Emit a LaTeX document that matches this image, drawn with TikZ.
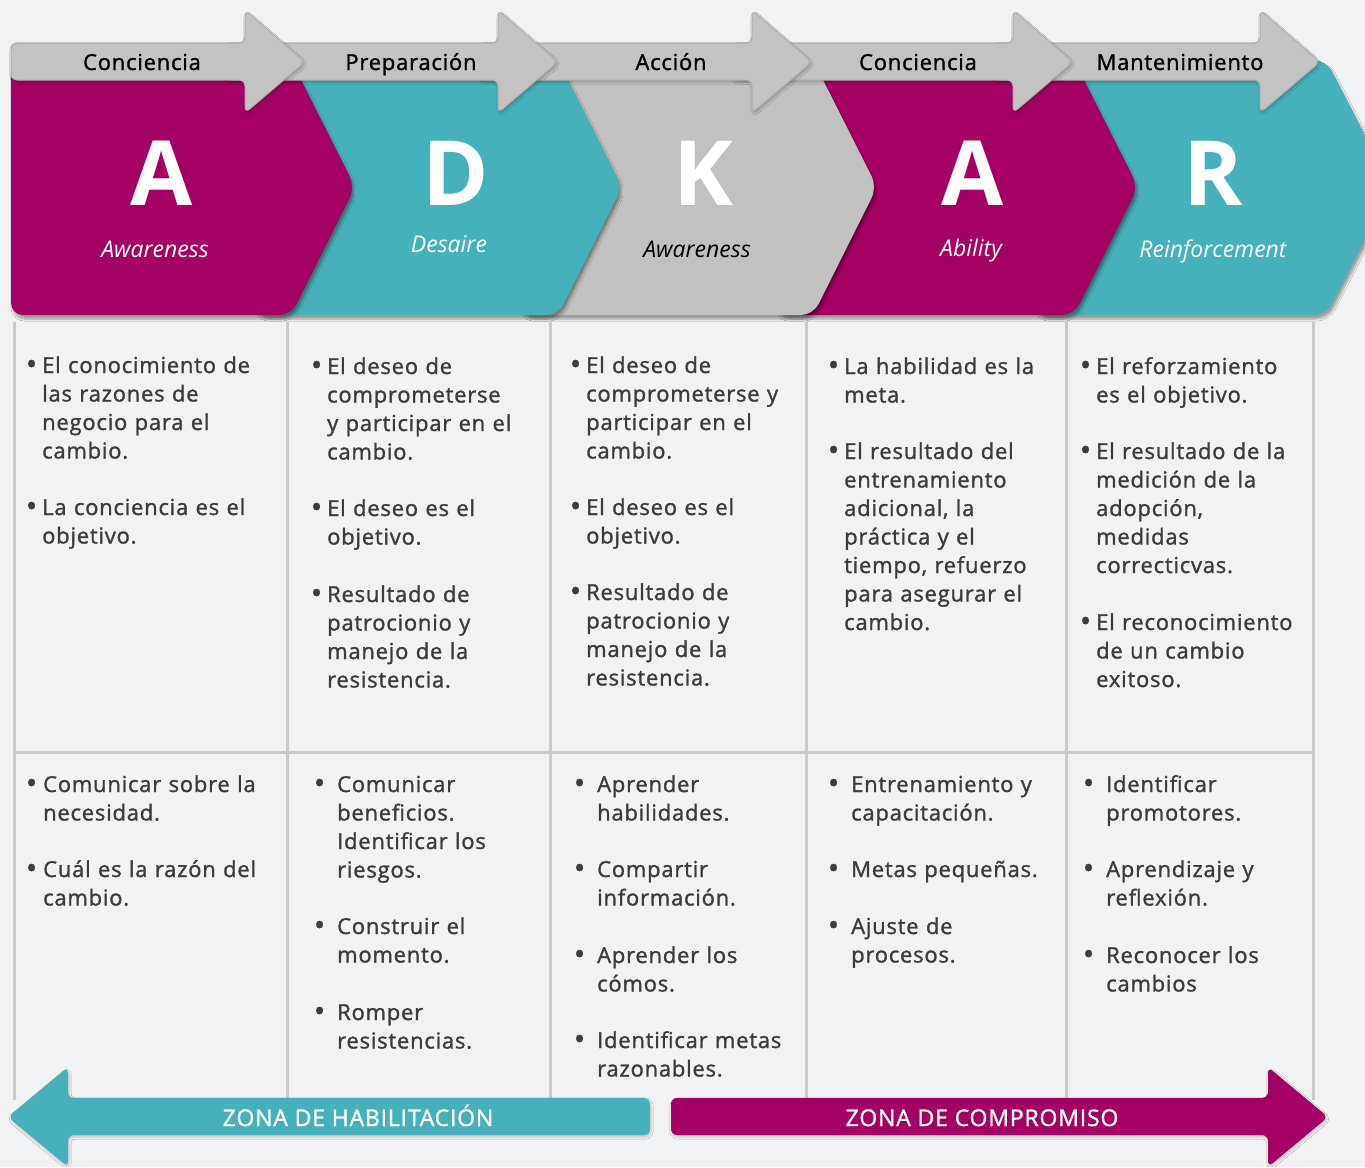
\documentclass[tikz,border=0pt]{standalone}
\usepackage{fontspec}
\setmainfont{Open Sans}
\newfontfamily\sbfont{Open Sans}[FakeBold=1.3,LetterSpace=3.5]
\usetikzlibrary{shadows.blur}
\definecolor{bgc}{HTML}{F1F2F4}
\definecolor{magc}{HTML}{A50064}
\definecolor{tealc}{HTML}{47B1BB}
\definecolor{chgray}{HTML}{C1C1C1}
\definecolor{bandgray}{HTML}{C3C3C3}
\definecolor{bandline}{HTML}{ADADAD}
\definecolor{gridc}{HTML}{CACACA}
\definecolor{txtc}{HTML}{3C3C3C}
\newcommand\bu[1][5pt]{\leavevmode\llap{\raisebox{-1.5pt}{\fontsize{30}{30}\selectfont\textbullet}\hspace{#1}}}
\begin{document}
\begin{tikzpicture}[x=1pt,y=-1pt,
  chev/.style={rounded corners=12pt, blur shadow={shadow xshift=2pt,shadow yshift=-4pt,shadow blur steps=6,shadow opacity=35}},
  tarrow/.style={fill=bandgray, draw=bandline, line width=1pt, rounded corners=6pt, blur shadow={shadow xshift=1pt,shadow yshift=-2pt,shadow blur steps=4,shadow opacity=25}},
  barrow/.style={rounded corners=6pt, blur shadow={shadow xshift=1pt,shadow yshift=-2pt,shadow blur steps=4,shadow opacity=20}},
  bigletter/.style={anchor=base, text=white, font=\fontsize{90}{90}\selectfont\bfseries, inner sep=0},
  subt/.style={anchor=base, text=white, font=\fontsize{23}{26}\selectfont\itshape, inner sep=0},
  toplabel/.style={anchor=base, text=black, font=\sbfont\fontsize{22}{26}\selectfont, inner sep=0},
  item/.style={anchor=base west, align=left, text width=250pt, inner sep=0, text=txtc, font=\sbfont\fontsize{22}{28.5}\selectfont},
  zone/.style={anchor=base, text=white, font=\sbfont\fontsize{23}{24}\selectfont, inner sep=0},
  gridline/.style={draw=gridc, line width=3pt}
]
\useasboundingbox (0,0) rectangle (1365,1167);
\fill[bgc] (0,0) rectangle (1365,1167);

% table grid
\foreach \xx in {14,287,550,806,1066,1313} \draw[gridline] (\xx,322) -- (\xx,1100);
\draw[gridline] (14,752) -- (1313,752);

% chevrons (right to left so left ones lie on top)
\fill[tealc,chev] (1035,60) -- (1326,60) -- (1392,187) -- (1326,315) -- (1035,315) -- cycle;
\fill[magc,chev] (775,60) -- (1074,60) -- (1138,187) -- (1074,315) -- (775,315) -- cycle;
\fill[chgray,chev] (520,60) -- (813,60) -- (877,187) -- (813,315) -- (520,315) -- cycle;
\fill[tealc,chev] (255,60) -- (558,60) -- (622,187) -- (558,315) -- (255,315) -- cycle;
\fill[magc,chev] (11,60) -- (291,60) -- (355,187) -- (291,315) -- (11,315) -- cycle;

\node[bigletter] (L1) at (162,205) {A};
\node[bigletter] (L2) at (456,205) {D};
\node[bigletter] (L3) at (703,205) {K};
\node[bigletter] (L4) at (973,205) {A};
\node[bigletter] (L5) at (1213,205) {R};
\node[subt] (S1) at (155,257) {Awareness};
\node[subt] (S2) at (449,252) {Desaire};
\node[subt,text=black] (S3) at (697,257) {Awareness};
\node[subt] (S4) at (971,256) {Ability};
\node[subt] (S5) at (1213,257) {Reinforcement};

% top arrows
\path[tarrow] (993,43) -- (1260,43) -- (1260,10) -- (1320,62) -- (1260,113) -- (1260,80) -- (993,80) -- cycle;
\path[tarrow] (732,43) -- (1013,43) -- (1013,10) -- (1073,62) -- (1013,113) -- (1013,80) -- (732,80) -- cycle;
\path[tarrow] (478,43) -- (752,43) -- (752,10) -- (812,62) -- (752,113) -- (752,80) -- (478,80) -- cycle;
\path[tarrow] (225,43) -- (498,43) -- (498,10) -- (558,62) -- (498,113) -- (498,80) -- (225,80) -- cycle;
\path[tarrow] (11,43) -- (245,43) -- (245,10) -- (305,62) -- (245,113) -- (245,80) -- (11,80) -- cycle;

\node[toplabel] (T1) at (142,70) {Conciencia};
\node[toplabel] (T2) at (411,70) {Preparación};
\node[toplabel] (T3) at (671,70) {Acción};
\node[toplabel] (T4) at (918,70) {Conciencia};
\node[toplabel] (T5) at (1180,70) {Mantenimiento};

% row 1
\node[item] (a1) at (42,373) {\bu El conocimiento de\\las razones de\\negocio para el\\cambio.};
\node[item] (a2) at (42,515) {\bu La conciencia es el\\objetivo.};
\node[item] (b1) at (327,374) {\bu El deseo de\\comprometerse\\y participar en el\\cambio.};
\node[item] (b2) at (327,516) {\bu El deseo es el\\objetivo.};
\node[item] (b3) at (327,602) {\bu Resultado de\\patrocionio y\\manejo de la\\resistencia.};
\node[item] (c1) at (586,373) {\bu El deseo de\\comprometerse y\\participar en el\\cambio.};
\node[item] (c2) at (586,515) {\bu El deseo es el\\objetivo.};
\node[item] (c3) at (586,600) {\bu Resultado de\\patrocionio y\\manejo de la\\resistencia.};
\node[item] (d1) at (844,374) {\bu La habilidad es la\\meta.};
\node[item] (d2) at (844,459) {\bu El resultado del\\entrenamiento\\adicional, la\\práctica y el\\tiempo, refuerzo\\para asegurar el\\cambio.};
\node[item] (e1) at (1096,374) {\bu El reforzamiento\\es el objetivo.};
\node[item] (e2) at (1096,459) {\bu El resultado de la\\medición de la\\adopción,\\medidas\\correcticvas.};
\node[item] (e3) at (1096,630) {\bu El reconocimiento\\de un cambio\\exitoso.};

% row 2
\node[item] (f1) at (43,792) {\bu[6pt]Comunicar sobre la\\necesidad.};
\node[item] (f2) at (43,877) {\bu[6pt]Cuál es la razón del\\cambio.};
\node[item] (g1) at (337,792) {\bu[12pt]Comunicar\\beneficios.\\Identificar los\\riesgos.};
\node[item] (g2) at (337,934) {\bu[12pt]Construir el\\momento.};
\node[item] (g3) at (337,1020) {\bu[12pt]Romper\\resistencias.};
\node[item] (h1) at (597,792) {\bu[12pt]Aprender\\habilidades.};
\node[item] (h2) at (597,877) {\bu[12pt]Compartir\\información.};
\node[item] (h3) at (597,963) {\bu[12pt]Aprender los\\cómos.};
\node[item] (h4) at (597,1048) {\bu[12pt]Identificar metas\\razonables.};
\node[item] (i1) at (851,792) {\bu[12pt]Entrenamiento y\\capacitación.};
\node[item] (i2) at (851,877) {\bu[12pt]Metas pequeñas.};
\node[item] (i3) at (851,934) {\bu[12pt]Ajuste de\\procesos.};
\node[item] (j1) at (1106,792) {\bu[12pt]Identificar\\promotores.};
\node[item] (j2) at (1106,877) {\bu[12pt]Aprendizaje y\\reflexión.};
\node[item] (j3) at (1106,963) {\bu[12pt]Reconocer los\\cambios};

% bottom arrows
\fill[tealc,barrow] (650,1098) -- (68,1098) -- (68,1067) -- (8,1117) -- (68,1167) -- (68,1135) -- (650,1135) -- cycle;
\fill[magc,barrow] (671,1098) -- (1268,1098) -- (1268,1067) -- (1328,1117) -- (1268,1167) -- (1268,1135) -- (671,1135) -- cycle;
\node[zone] (Z1) at (358,1126) {ZONA DE HABILITACIÓN};
\node[zone] (Z2) at (982,1126) {ZONA DE COMPROMISO};
\end{tikzpicture}
\end{document}
